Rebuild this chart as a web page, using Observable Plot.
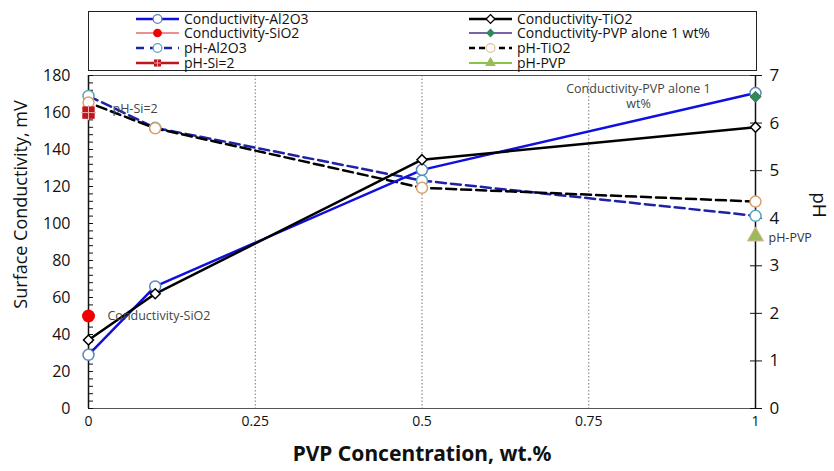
<!DOCTYPE html>
<html><head><meta charset="utf-8">
<script src="https://cdn.jsdelivr.net/npm/d3@7"></script>
<script src="https://cdn.jsdelivr.net/npm/@observablehq/plot@0.6"></script>
<style>
body{margin:0;background:#fff;font-family:"Open Sans",sans-serif;}
#wrap{position:relative;width:834px;height:471px;}
#legend{position:absolute;left:88px;top:11px;width:669px;height:60px;border:1.5px solid #222;box-sizing:border-box;background:#fff;}
.item{position:absolute;display:flex;align-items:center;font-size:14px;color:#111;height:14px;line-height:14px;white-space:nowrap;}
.item svg{margin-right:5px;}
</style></head><body><div id="wrap"><div id="legend"></div><div id="chart"></div></div>
<script>
// ---- data ----
const concentrations = [0, 0.1, 0.5, 1];
const condAl2O3 = [29, 66, 129, 170.5];
const condTiO2 = [37, 62, 134.5, 152];
const pHAl2O3 = [6.57, 5.9, 4.79, 4.05];
const pHTiO2 = [6.43, 5.89, 4.64, 4.35];
const condSiO2X = [0], condSiO2 = [50];
const condPVPX = [1], condPVP = [168.5];
const pHSiX = [0], pHSi = [6.22];
const pHPVPX = [1], pHPVP = [3.62];
const xTicks = [0, 0.25, 0.5, 0.75, 1];
const gridX = [0.25, 0.5, 0.75];
const condTicks = d3.range(0, 181, 20);
const condMinor = d3.range(0, 181, 4);
const pHTicks = [0, 1, 2, 3, 4, 5, 6, 7];
const legendLeft = ["Conductivity-Al2O3", "Conductivity-SiO2", "pH-Al2O3", "pH-Si=2"];
const legendRight = ["Conductivity-TiO2", "Conductivity-PVP alone 1 wt%", "pH-TiO2", "pH-PVP"];

const k = 180 / 7; // pH -> left-axis units
const rows = concentrations.map((x, i) => ({x, cAl: condAl2O3[i], cTi: condTiO2[i], pAl: pHAl2O3[i] * k, pTi: pHTiO2[i] * k}));
const sio2 = condSiO2X.map((x, i) => ({x, y: condSiO2[i]}));
const pvp = condPVPX.map((x, i) => ({x, y: condPVP[i]}));
const psi = pHSiX.map((x, i) => ({x, y: pHSi[i] * k}));
const ppvp = pHPVPX.map((x, i) => ({x, y: pHPVP[i] * k}));

const C = {
  blue: "#0f0fe0", cAlStroke: "#5a86b8", pAlLine: "#1e22a8", pAlStroke: "#5aa3c3",
  pTiStroke: "#d9a06a", red: "#f00000", green: "#2e8b57", darkred: "#c0141e", olive: "#9bbb59"
};

const chart = Plot.plot({
  width: 834, height: 471,
  marginLeft: 88, marginRight: 79, marginTop: 75, marginBottom: 63,
  style: {fontFamily: "'Open Sans', sans-serif", fontSize: "15px", color: "#111", background: "transparent"},
  x: {domain: [0, 1]},
  y: {domain: [0, 180]},
  marks: [
    Plot.ruleX(gridX, {stroke: "#777", strokeDasharray: "1.5,2", strokeWidth: 1}),
    Plot.ruleY([180], {stroke: "#555", strokeWidth: 1}),
    Plot.ruleY([0], {stroke: "#555", strokeWidth: 1.2}),
    Plot.ruleX([0], {stroke: "#111", strokeWidth: 1.5}),
    Plot.ruleX([1], {stroke: "#111", strokeWidth: 1.5}),
    Plot.axisX(xTicks, {tickSize: 0, tickPadding: 8, tickFormat: d => String(d), fontSize: 14, label: null}),
    Plot.axisY(condTicks, {anchor: "left", tickSize: 0, tickPadding: 18, fontSize: 16, label: null}),
    Plot.axisY(condMinor, {anchor: "left", tickSize: -5, fill: "none", label: null, stroke: "#111"}),
    Plot.axisY(pHTicks, {anchor: "right", y: d => d * k, tickSize: 6, tickPadding: 8, tickFormat: d => String(d), fontSize: 17, label: null, stroke: "#111"}),
    Plot.axisY(pHTicks, {anchor: "right", y: d => d * k, tickSize: -6, fill: "none", label: null, stroke: "#111"}),
    // pH lines
    Plot.line(rows, {x: "x", y: "pAl", stroke: C.pAlLine, strokeWidth: 2.5, strokeDasharray: "10,5"}),
    Plot.line(rows, {x: "x", y: "pTi", stroke: "#000", strokeWidth: 2.5, strokeDasharray: "10,5", strokeDashoffset: 6}),
    // conductivity lines
    Plot.line(rows, {x: "x", y: "cAl", stroke: C.blue, strokeWidth: 2.5}),
    Plot.line(rows, {x: "x", y: "cTi", stroke: "#000", strokeWidth: 2.5}),
    // markers
    Plot.dot(rows, {x: "x", y: "pAl", r: 5.5, fill: "white", stroke: C.pAlStroke, strokeWidth: 1.5}),
    Plot.dot(rows, {x: "x", y: "pTi", r: 5.5, fill: "white", stroke: C.pTiStroke, strokeWidth: 1.5}),
    Plot.dot(rows, {x: "x", y: "cAl", r: 5.5, fill: "white", stroke: C.cAlStroke, strokeWidth: 1.5}),
    Plot.dot(rows, {x: "x", y: "cTi", r: 4.5, symbol: "diamond2", fill: "white", stroke: "#000", strokeWidth: 1.5}),
    Plot.dot(sio2, {x: "x", y: "y", r: 6.5, fill: C.red}),
    Plot.dot(pvp, {x: "x", y: "y", r: 5, symbol: "diamond2", fill: C.green, stroke: "#2a6a4a", strokeWidth: 0.8}),
    Plot.dot(psi, {x: "x", y: "y", r: 7, symbol: "square", fill: C.darkred}),
    Plot.dot(psi, {x: "x", y: "y", r: 5, symbol: "plus", stroke: "#f2b0b0", strokeWidth: 1}),
    Plot.dot(ppvp, {x: "x", y: "y", r: 6, symbol: "triangle", fill: C.olive, stroke: "#e5b0a0", strokeWidth: 1}),
    // annotations
    Plot.text(psi, {x: "x", y: "y", text: () => "pH-Si=2", dx: 24, dy: -4, textAnchor: "start", fontSize: 12.5, fill: "#444"}),
    Plot.text(sio2, {x: "x", y: "y", text: () => "Conductivity-SiO2", dx: 19, dy: 0, textAnchor: "start", fontSize: 12.5, fill: "#444"}),
    Plot.text(ppvp, {x: "x", y: "y", text: () => "pH-PVP", dx: 13, dy: 2, textAnchor: "start", fontSize: 12.5, fill: "#333"}),
    Plot.text(pvp, {x: "x", y: "y", text: () => "Conductivity-PVP alone 1\nwt%", dx: -117, dy: -1, textAnchor: "middle", fontSize: 12.5, lineHeight: 1.15, fill: "#444"}),
    // titles
    Plot.text(["PVP Concentration, wt.%"], {frameAnchor: "bottom", dy: 52, fontSize: 21, fontWeight: "bold", fontFamily: "'Noto Sans', sans-serif", fill: "#111", textAnchor: "middle"}),
    Plot.text(["Surface Conductivity, mV"], {frameAnchor: "left", dx: -67, dy: -37.5, rotate: -90, fontSize: 18, fill: "#111", textAnchor: "middle"}),
    Plot.text(["pH"], {frameAnchor: "right", dx: 64, dy: -37, rotate: 90, fontSize: 19, fill: "#111", textAnchor: "middle"})
  ]
});
document.getElementById("chart").appendChild(chart);

// ---- legend ----
const legendStyle = {
  "Conductivity-Al2O3": {line: C.blue, w: 2.5, dash: null, sym: "circle", fill: "white", stroke: C.cAlStroke},
  "Conductivity-SiO2": {line: "#e86a6a", w: 1.5, dash: null, sym: "circle", fill: C.red, stroke: "none"},
  "pH-Al2O3": {line: C.pAlLine, w: 2.5, dash: "8,6", sym: "circle", fill: "white", stroke: C.pAlStroke},
  "pH-Si=2": {line: C.darkred, w: 2.5, dash: null, sym: "square", fill: C.darkred, stroke: "none"},
  "Conductivity-TiO2": {line: "#000", w: 2.5, dash: null, sym: "diamond", fill: "white", stroke: "#000"},
  "Conductivity-PVP alone 1 wt%": {line: "#7a62a8", w: 2, dash: null, sym: "diamond", fill: C.green, stroke: "none"},
  "pH-TiO2": {line: "#000", w: 2.5, dash: "6,4", sym: "circle", fill: "white", stroke: "#e8c4a0"},
  "pH-PVP": {line: "#86c44a", w: 2, dash: null, sym: "triangle", fill: C.olive, stroke: "none"}
};
const legend = d3.select("#legend");
function addItem(name, left, top) {
  const s = legendStyle[name];
  const item = legend.append("div").attr("class", "item").style("left", left + "px").style("top", top + "px");
  const svg = item.append("svg").attr("width", 43).attr("height", 14);
  svg.append("line").attr("x1", 0).attr("x2", 43).attr("y1", 7).attr("y2", 7)
    .attr("stroke", s.line).attr("stroke-width", s.w).attr("stroke-dasharray", s.dash);
  const symMap = {circle: d3.symbolCircle, square: d3.symbolSquare, diamond: d3.symbolDiamond2, triangle: d3.symbolTriangle};
  const size = s.sym === "circle" ? 60 : 50;
  svg.append("path").attr("transform", "translate(21.5,7)")
    .attr("d", d3.symbol(symMap[s.sym], size)())
    .attr("fill", s.fill).attr("stroke", s.stroke).attr("stroke-width", 1.3);
  if (s.sym === "square") {
    svg.append("path").attr("d", "M21.5,3.5V10.5M18,7H25").attr("stroke", "#f2a0a0").attr("stroke-width", 1);
  }
  item.append("span").text(name);
}
const rowTops = [-0.5, 13.8, 28.8, 43.5];
legendLeft.forEach((n, i) => addItem(n, 47, rowTops[i]));
legendRight.forEach((n, i) => addItem(n, 380, rowTops[i]));
</script></body></html>
